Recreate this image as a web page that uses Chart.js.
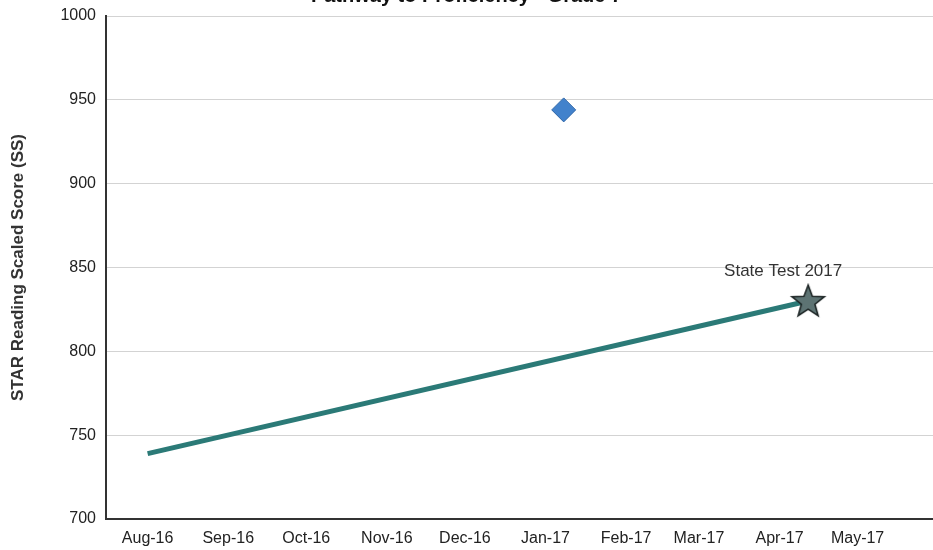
<!DOCTYPE html>
<html>
<head>
<meta charset="utf-8">
<script src="https://cdn.jsdelivr.net/npm/chart.js@4"></script>
<style>
  html, body { margin:0; padding:0; background:#fff; overflow:hidden; }
  #wrap { position:absolute; left:0; top:-16px; width:1030px; height:566px; }
</style>
</head>
<body>
<div id="wrap"><canvas id="c"></canvas></div>
<script>
// days counted from 1 Aug 2016
const monthLabels = ['Aug-16','Sep-16','Oct-16','Nov-16','Dec-16','Jan-17','Feb-17','Mar-17','Apr-17','May-17'];
const monthDays   = [0, 31, 61, 92, 122, 153, 184, 212, 243, 273];

const pathwayDays   = [0, 254];
const pathwayScores = [739, 830];
const stateTestLabel = 'State Test 2017';

const starDays   = [160];
const starScores = [944];

// 5 point star marker
function makeStar(size){
  const cv = document.createElement('canvas');
  cv.width = size; cv.height = size;
  const g = cv.getContext('2d');
  const cx = size/2, cy = size/2 + 1, R = size/2 - 2, r = R*0.42;
  g.beginPath();
  for(let i=0;i<10;i++){
    const a = -Math.PI/2 + i*Math.PI/5;
    const rr = i%2 ? r : R;
    g.lineTo(cx + rr*Math.cos(a), cy + rr*Math.sin(a));
  }
  g.closePath();
  g.fillStyle = '#5d7373'; g.fill();
  g.lineWidth = 1.6; g.strokeStyle = '#1e2626'; g.stroke();
  return cv;
}
const starImg = makeStar(38);

const labelPlugin = {
  id:'stateLabel',
  afterDatasetsDraw(chart){
    const pt = chart.getDatasetMeta(0).data[1];
    if(!pt) return;
    const ctx = chart.ctx;
    ctx.save();
    ctx.font = '17px "Liberation Sans", Arial, sans-serif';
    ctx.fillStyle = '#333';
    ctx.textAlign = 'center'; ctx.textBaseline = 'middle';
    ctx.fillText(stateTestLabel, pt.x - 25, pt.y - 30);
    ctx.restore();
  }
};

const ctx = document.getElementById('c').getContext('2d');
window.pathChart = new Chart(ctx, {
  type:'scatter',
  data:{ datasets:[
    { label:'Pathway', data: pathwayDays.map((d,i)=>({x:d, y:pathwayScores[i]})), showLine:true,
      borderColor:'#2b7a77', borderWidth:5, pointRadius:[0,16], pointStyle:['circle', starImg], order:2 },
    { label:'STAR', data: starDays.map((d,i)=>({x:d, y:starScores[i]})),
      pointStyle:'rectRot', pointRadius:12, backgroundColor:'#4282cc', borderColor:'#2f67a8', borderWidth:1, order:1 }
  ]},
  options:{
    animation:false, responsive:true, maintainAspectRatio:false,
    layout:{ padding:{ left:0, right:97, top:0, bottom:0 } },
    plugins:{
      legend:{ display:false }, tooltip:{ enabled:false },
      title:{ display:true, text:'Pathway to Proficiency - Grade 7', color:'#111',
        font:{ family:'"Liberation Sans", Arial, sans-serif', size:20, weight:'bold', lineHeight:1.2 },
        padding:{ top:0, bottom:8 } }
    },
    scales:{
      x:{ type:'linear', min:-16, max:302,
        afterBuildTicks: s => { s.ticks = monthDays.map(v=>({value:v})); },
        afterFit: s => { s.height = 31; },
        ticks:{ callback:(v)=> monthLabels[monthDays.indexOf(v)], color:'#222', padding:10, maxRotation:0, autoSkip:false,
          font:{ family:'"Liberation Sans", Arial, sans-serif', size:16 } },
        grid:{ display:false, drawTicks:false },
        border:{ display:true, color:'#333', width:2 } },
      y:{ min:700, max:1000,
        afterFit: s => { s.width = 106; },
        ticks:{ stepSize:50, color:'#222', padding:10, callback: v => String(v),
          font:{ family:'"Liberation Sans", Arial, sans-serif', size:16 } },
        grid:{ color:'#d3d3d3', lineWidth:1, drawTicks:false },
        border:{ display:true, color:'#333', width:2 },
        title:{ display:true, text:'STAR Reading Scaled Score (SS)', color:'#333', padding:{top:8,bottom:4},
          font:{ family:'"Liberation Sans", Arial, sans-serif', size:17, weight:'bold' } } }
    }
  },
  plugins:[labelPlugin]
});
</script>
</body>
</html>
